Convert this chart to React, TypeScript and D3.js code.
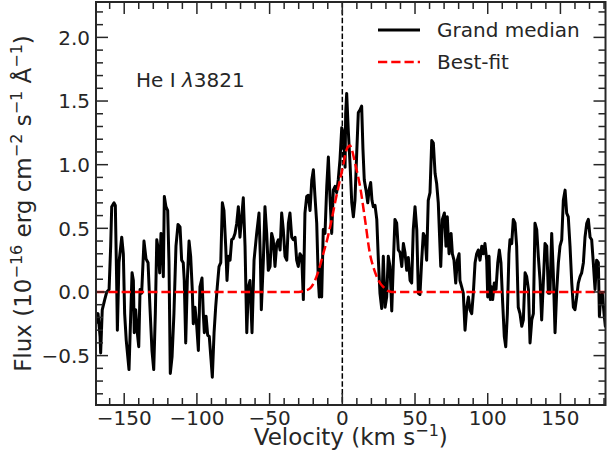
import React, { useEffect, useRef } from "react";
import * as d3 from "d3";

// grand median spectrum (km/s, 1e-16 erg cm-2 s-1 A-1)
const velocity = [
  -169.6, -168.0, -166.6, -166.2, -165.1, -163.4, -162.0, -160.4, -159.3, -158.6,
  -157.0, -156.1, -155.2, -154.7, -153.6, -151.7, -150.6, -149.7, -148.6, -146.7,
  -145.5, -144.6, -143.7, -143.1, -142.1, -141.0, -140.0, -139.1, -138.0, -136.4,
  -135.0, -133.6, -132.3, -130.9, -129.7, -128.6, -127.6, -126.5, -125.6, -124.7,
  -123.8, -123.1, -122.4, -121.3, -120.1, -119.2, -118.3, -117.1, -115.8, -114.4,
  -113.0, -111.6, -110.5, -109.4, -108.7, -107.7, -106.6, -105.4, -104.3, -103.2,
  -102.5, -101.3, -100.1, -99.0, -97.9, -96.5, -95.6, -94.9, -93.7, -92.6,
  -91.5, -90.3, -89.4, -88.2, -87.1, -86.0, -84.8, -83.6, -82.5, -81.4,
  -80.2, -79.3, -78.4, -77.2, -76.1, -75.0, -73.8, -72.6, -71.5, -70.4,
  -69.2, -68.1, -66.9, -65.7, -64.6, -63.5, -62.1, -60.7, -58.9, -57.3,
  -56.4, -55.7, -54.3, -53.2, -52.0, -50.9, -49.7, -48.6, -47.5, -46.3,
  -45.1, -44.0, -42.8, -41.7, -40.6, -39.4, -38.2, -37.1, -36.0, -34.8,
  -33.7, -32.5, -31.4, -30.3, -29.1, -27.9, -26.8, -25.7, -24.5, -23.4,
  -22.2, -21.0, -19.9, -18.8, -17.6, -16.5, -15.8, -14.9, -14.2, -13.1,
  -11.9, -10.7, -9.6, -8.5, -7.3, -6.2, -5.0, -3.9, -2.8, -1.6,
  -0.4, 0.7, 1.9, 2.3, 3.0, 4.1, 5.3, 6.5, 7.6, 8.7,
  9.9, 11.0, 12.2, 13.3, 14.2, 15.1, 16.3, 17.5, 18.4, 19.5,
  20.4, 21.3, 22.5, 23.7, 24.8, 25.9, 27.1, 28.2, 29.4, 30.5,
  31.6, 32.8, 34.0, 35.1, 36.2, 37.4, 38.5, 39.7, 40.9, 42.0,
  43.1, 44.3, 45.4, 46.6, 47.7, 48.8, 50.0, 51.2, 52.3, 53.4,
  54.6, 55.7, 56.9, 58.0, 59.1, 60.3, 61.5, 62.6, 63.8, 64.9,
  66.0, 67.7, 68.8, 70.2, 71.3, 72.2, 73.4, 74.8, 75.7, 76.8,
  78.0, 79.1, 80.3, 80.9, 82.1, 83.2, 84.4, 85.6, 86.7, 87.8,
  89.0, 90.1, 91.3, 92.4, 93.5, 94.7, 95.9, 97.0, 98.1, 99.3,
  100.0, 100.9, 101.8, 102.8, 103.4, 104.5, 105.7, 106.9, 108.0, 109.1,
  110.3, 111.4, 112.4, 113.5, 114.6, 115.3, 116.5, 117.6, 118.8, 119.9,
  121.0, 122.2, 123.4, 124.5, 125.7, 126.8, 128.0, 129.1, 130.3, 131.4,
  132.5, 133.7, 134.8, 136.0, 137.1, 138.3, 139.4, 140.6, 141.7, 142.8,
  144.0, 145.1, 146.3, 147.5, 148.6, 149.7, 150.9, 152.0, 153.2, 154.3,
  155.4, 156.6, 157.8, 158.9, 160.0, 161.2, 162.3, 163.5, 164.6, 165.8,
  166.9, 168.1, 169.2, 170.4, 171.5, 172.6, 173.8, 174.9, 176.1, 176.8,
  177.7, 178.8, 180.0, 180.9, 182.0,
];
const flux = [
  -0.25, -0.17, -0.35, -0.48, -0.14, -0.06, 0.0, 0.02, 0.36, 0.67,
  0.7, 0.68, 0.09, -0.3, 0.23, 0.43, 0.3, -0.17, -0.38, -0.61,
  -0.17, 0.15, 0.09, -0.32, -0.14, -0.32, -0.43, 0.02, -0.01, 0.4,
  0.26, 0.23, -0.12, -0.46, -0.61, -0.17, 0.41, 0.33, 0.15, 0.46,
  0.41, 0.12, 0.75, 0.67, 0.64, 0.23, -0.64, -0.51, -0.17, 0.36,
  0.53, 0.51, 0.25, 0.23, 0.09, -0.4, 0.09, 0.4, 0.28, 0.02,
  -0.25, -0.12, -0.27, -0.46, 0.04, 0.11, -0.17, -0.32, -0.19, -0.34,
  -0.35, -0.53, -0.67, -0.32, -0.12, 0.04, 0.2, 0.23, 0.7, 0.64,
  0.36, 0.09, 0.28, 0.25, 0.41, 0.42, 0.46, 0.54, 0.67, 0.43,
  0.59, 0.74, 0.36, -0.32, 0.04, 0.09, -0.32, 0.25, 0.46, 0.62,
  0.28, -0.14, 0.25, 0.67, 0.46, 0.17, 0.2, 0.46, 0.41, 0.2,
  0.38, 0.41, 0.33, 0.62, 0.49, 0.28, 0.25, 0.54, 0.62, 0.43,
  0.41, 0.43, 0.25, 0.2, 0.3, 0.28, -0.06, 0.62, 0.75, 0.76,
  0.64, 0.88, 0.96, 0.75, 0.54, 0.09, -0.04, 0.2, -0.04, 0.49,
  0.46, 0.83, 1.06, 0.75, 0.46, 0.8, 0.83, 0.78, 0.88, 1.04,
  1.29, 1.25, 0.98, 1.4, 1.56, 1.27, 1.01, 0.7, 0.59, 0.72,
  1.09, 1.41, 1.43, 1.46, 1.12, 0.88, 0.8, 0.7, 0.8, 0.86,
  0.72, 0.67, 0.68, 0.57, 0.25, -0.01, -0.13, 0.28, -0.12, -0.04,
  0.28, 0.2, -0.15, 0.23, 0.57, 0.54, 0.33, 0.31, 0.2, 0.38,
  0.31, 0.17, 0.27, 0.09, 0.07, 0.49, 0.67, 0.49, -0.01, -0.02,
  0.25, 0.46, 0.43, 0.25, 0.72, 0.78, 1.19, 1.17, 0.93, 0.85,
  0.7, 0.2, 0.57, 0.62, 0.36, 0.59, 0.3, 0.46, 0.3, 0.25,
  0.07, 0.25, 0.3, 0.09, 0.04, -0.01, -0.3, -0.12, -0.04, -0.14,
  -0.17, -0.01, 0.23, 0.3, 0.33, 0.25, 0.36, 0.3, 0.38, 0.25,
  -0.04, 0.28, -0.06, 0.04, -0.06, 0.07, 0.02, 0.23, 0.33, 0.23,
  -0.09, -0.35, -0.43, -0.17, 0.3, 0.41, 0.38, 0.57, 0.54, 0.36,
  -0.12, -0.17, -0.27, -0.22, 0.15, 0.12, 0.02, -0.4, -0.22, -0.17,
  0.54, 0.49, 0.28, 0.09, -0.22, 0.09, 0.38, 0.36, -0.01, -0.01,
  0.46, 0.15, -0.32, 0.02, 0.23, 0.36, 0.41, 0.72, 0.8, 0.62,
  0.59, 0.36, 0.07, -0.12, -0.14, -0.04, 0.07, 0.12, 0.15, 0.23,
  0.43, 0.54, 0.57, 0.43, 0.41, 0.23, 0.02, 0.25, 0.23, -0.19,
  -0.04, -0.01, -0.17, -0.27, -0.04,
];

// best-fit profile
const fitVelocity = [
  -170, -30, -25.7, -22, -18.8, -16, -13.1, -10, -7.3, -4.5, -1.6, 0.5, 3.0, 5.3,
  6.5, 9, 12.2, 15.6, 19.0, 21.5, 23.7, 26, 28.2, 31, 34, 182,
];
const fitFlux = [
  0, 0, 0.01, 0.03, 0.09, 0.18, 0.3, 0.43, 0.57, 0.73, 0.88, 0.99, 1.12, 1.15,
  1.12, 1.0, 0.83, 0.57, 0.3, 0.19, 0.12, 0.07, 0.04, 0.01, 0, 0,
];

const xMajor = [-150, -100, -50, 0, 50, 100, 150];
const yMajor = [-0.5, 0.0, 0.5, 1.0, 1.5, 2.0];

const W = 609;
const H = 468;
const margin = { top: 2, right: 3.5, bottom: 63, left: 96 };
const FONT = "DejaVu Sans, sans-serif";
const INK = "#262626";

function SpectrumChart() {
  const ref = useRef<SVGSVGElement>(null);

  useEffect(() => {
    const svg = d3.select(ref.current);
    svg.selectAll("*").remove();

    const x = d3.scaleLinear().domain([-169.4, 181]).range([margin.left, W - margin.right]);
    const y = d3.scaleLinear().domain([-0.888, 2.278]).range([H - margin.bottom, margin.top]);
    const [x0, x1] = x.range();
    const [y0, y1] = y.range();

    svg
      .append("defs")
      .append("clipPath")
      .attr("id", "plotClip")
      .append("rect")
      .attr("x", x0)
      .attr("y", y1)
      .attr("width", x1 - x0)
      .attr("height", y0 - y1);

    const plot = svg.append("g").attr("clip-path", "url(#plotClip)");

    // zero velocity marker
    plot
      .append("line")
      .attr("x1", x(0))
      .attr("x2", x(0))
      .attr("y1", y1)
      .attr("y2", y0)
      .attr("stroke", "#000")
      .attr("stroke-width", 1.5)
      .attr("stroke-dasharray", "5.5 2.4");

    const specLine = d3
      .line<number>()
      .x((d, i) => x(velocity[i]))
      .y((d) => y(d));

    plot
      .append("path")
      .attr("d", specLine(flux))
      .attr("fill", "none")
      .attr("stroke", "#000")
      .attr("stroke-width", 3)
      .attr("stroke-linejoin", "round");

    const fitLine = d3
      .line<number>()
      .x((d, i) => x(fitVelocity[i]))
      .y((d) => y(d))
      .curve(d3.curveMonotoneX);

    plot
      .append("path")
      .attr("d", fitLine(fitFlux))
      .attr("fill", "none")
      .attr("stroke", "#ff0000")
      .attr("stroke-width", 2.5)
      .attr("stroke-dasharray", "9.25 4");

    // ticks, inward on every side
    const ticks = svg.append("g").attr("stroke", INK).attr("stroke-width", 1.5);
    const xMinor = d3.range(-160, 181, 10).filter((v) => v % 50 !== 0);
    const yMinor = d3.range(-8, 23).map((v) => v / 10).filter((v) => Math.abs((v * 10) % 5) > 0.01);

    const addX = (vals: number[], len: number) => {
      vals.forEach((v) => {
        ticks.append("line").attr("x1", x(v)).attr("x2", x(v)).attr("y1", y0).attr("y2", y0 - len);
        ticks.append("line").attr("x1", x(v)).attr("x2", x(v)).attr("y1", y1).attr("y2", y1 + len);
      });
    };
    const addY = (vals: number[], len: number) => {
      vals.forEach((v) => {
        ticks.append("line").attr("y1", y(v)).attr("y2", y(v)).attr("x1", x0).attr("x2", x0 + len);
        ticks.append("line").attr("y1", y(v)).attr("y2", y(v)).attr("x1", x1).attr("x2", x1 - len);
      });
    };
    addX(xMajor, 12);
    addX(xMinor, 7);
    addY(yMajor, 12);
    addY(yMinor, 7);

    svg
      .append("rect")
      .attr("x", x0)
      .attr("y", y1)
      .attr("width", x1 - x0)
      .attr("height", y0 - y1)
      .attr("fill", "none")
      .attr("stroke", INK)
      .attr("stroke-width", 2);

    const labels = svg.append("g").attr("font-family", FONT).attr("fill", INK);

    labels
      .selectAll(".xt")
      .data(xMajor)
      .enter()
      .append("text")
      .attr("x", (d) => x(d))
      .attr("y", 424.5)
      .attr("text-anchor", "middle")
      .attr("font-size", 20)
      .text((d) => (d < 0 ? "\u2212" + Math.abs(d) : String(d)));

    labels
      .selectAll(".yt")
      .data(yMajor)
      .enter()
      .append("text")
      .attr("x", 90)
      .attr("y", (d) => y(d) + 7.3)
      .attr("text-anchor", "end")
      .attr("font-size", 20)
      .text((d) => (d < 0 ? "\u2212" + Math.abs(d).toFixed(1) : d.toFixed(1)));

    // axis titles
    const xt = labels
      .append("text")
      .attr("x", (x0 + x1) / 2)
      .attr("y", 445)
      .attr("text-anchor", "middle")
      .attr("font-size", 23);
    xt.append("tspan").text("Velocity (km s");
    xt.append("tspan").attr("dy", -9).attr("font-size", 16).text("\u22121");
    xt.append("tspan").attr("dy", 9).text(")");

    const yt = labels
      .append("text")
      .attr("transform", `translate(31,${(y0 + y1) / 2}) rotate(-90)`)
      .attr("text-anchor", "middle")
      .attr("font-size", 23);
    const sup = (t: string) => {
      yt.append("tspan").attr("dy", -9).attr("font-size", 16).text(t);
    };
    const base = (t: string) => {
      yt.append("tspan").attr("dy", 9).text(t);
    };
    yt.append("tspan").text("Flux (10");
    sup("\u221216");
    base(" erg cm");
    sup("\u22122");
    base(" s");
    sup("\u22121");
    base(" \u00c5");
    sup("\u22121");
    base(")");

    // line annotation
    const ann = labels.append("text").attr("x", 136).attr("y", 87).attr("font-size", 20);
    ann.append("tspan").text("He I ");
    ann.append("tspan").attr("font-style", "italic").text("\u03bb");
    ann.append("tspan").text("3821");

    // legend
    const legend = svg.append("g");
    legend
      .append("line")
      .attr("x1", 378)
      .attr("x2", 420)
      .attr("y1", 30)
      .attr("y2", 30)
      .attr("stroke", "#000")
      .attr("stroke-width", 3);
    legend
      .append("line")
      .attr("x1", 378)
      .attr("x2", 420)
      .attr("y1", 62)
      .attr("y2", 62)
      .attr("stroke", "#ff0000")
      .attr("stroke-width", 2.5)
      .attr("stroke-dasharray", "9.25 4");
    legend
      .append("text")
      .attr("x", 437)
      .attr("y", 37)
      .attr("font-family", FONT)
      .attr("font-size", 20)
      .attr("fill", INK)
      .text("Grand median");
    legend
      .append("text")
      .attr("x", 437)
      .attr("y", 69)
      .attr("font-family", FONT)
      .attr("font-size", 20)
      .attr("fill", INK)
      .text("Best-fit");
  }, []);

  return (
    <svg
      ref={ref}
      width={W}
      height={H}
      style={{ position: "fixed", left: 0, top: 0, display: "block", background: "#fff" }}
    />
  );
}

export default function App() {
  return <SpectrumChart />;
}
